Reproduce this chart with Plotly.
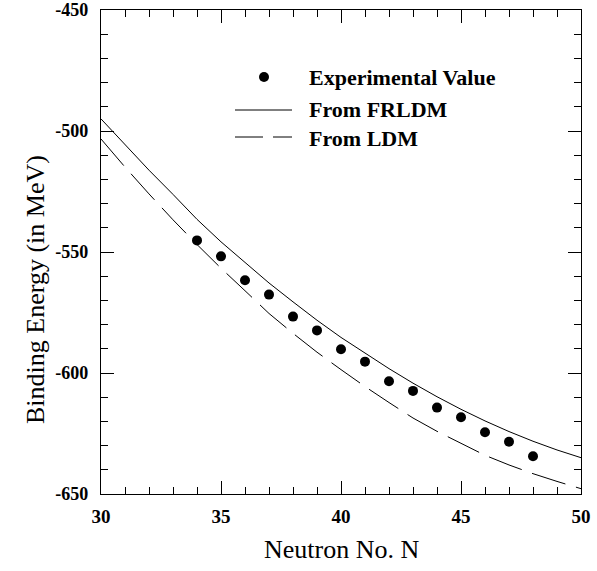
import plotly.graph_objects as go

# ---- data ----
N_exp = [34, 35, 36, 37, 38, 39, 40, 41, 42, 43, 44, 45, 46, 47, 48]
BE_exp = [-545.2, -551.8, -561.7, -567.6, -576.7, -582.4, -590.2, -595.3,
          -603.4, -607.4, -614.3, -618.3, -624.5, -628.4, -634.4]

N_model = [30, 31, 32, 33, 34, 35, 36, 37, 38, 39, 40,
           41, 42, 43, 44, 45, 46, 47, 48, 49, 50]
BE_frldm = [-495.0, -505.8, -516.2, -526.2, -536.5, -545.8, -554.5, -562.8,
            -570.6, -578.2, -585.3, -591.8, -598.2, -604.2, -609.8, -615.0,
            -619.8, -624.2, -628.2, -631.8, -635.0]
BE_ldm = [-503.3, -514.9, -526.0, -536.7, -546.9, -556.7, -566.0, -575.4,
          -583.6, -591.4, -598.6, -605.6, -612.2, -618.6, -624.1, -629.2,
          -634.0, -638.0, -641.6, -644.8, -647.8]

x_ticks = [30, 35, 40, 45, 50]
y_ticks = [-650, -600, -550, -500, -450]

legend_labels = ["Experimental Value", "From FRLDM", "From LDM"]

# ---- layout geometry ----
W, H = 597, 571
L, R, T, B = 101, 16, 10, 77
PW, PH = W - L - R, H - T - B


def px(x):
    return (x - L) / PW


def py(y):
    return (H - B - y) / PH


SERIF = "Liberation Serif"

fig = go.Figure()
fig.add_trace(go.Scatter(x=N_model, y=BE_frldm, mode="lines",
                         line=dict(color="black", width=1), showlegend=False))
fig.add_trace(go.Scatter(x=N_model, y=BE_ldm, mode="lines",
                         line=dict(color="black", width=1, dash="35px,11px"),
                         showlegend=False))
fig.add_trace(go.Scatter(x=N_exp, y=BE_exp, mode="markers",
                         marker=dict(color="black", size=10), showlegend=False))

axis_common = dict(
    showgrid=False, zeroline=False, showline=True, linecolor="black",
    linewidth=1.3, mirror="ticks", ticks="inside", tickcolor="black",
    tickwidth=1, ticklen=13, automargin=False,
)

fig.update_xaxes(range=[30, 50], tickvals=x_ticks,
                 ticktext=[str(v) for v in x_ticks],
                 tickfont=dict(family=SERIF, size=19, color="black",
                               weight="bold"),
                 minor=dict(dtick=1, ticks="inside", ticklen=7,
                            tickcolor="black", tickwidth=1),
                 ticklabelstandoff=5, **axis_common)
fig.update_yaxes(range=[-650, -450], tickvals=y_ticks,
                 ticktext=[str(v) for v in y_ticks],
                 tickfont=dict(family=SERIF, size=18, color="black",
                               weight="bold"),
                 minor=dict(dtick=10, ticks="inside", ticklen=7,
                            tickcolor="black", tickwidth=1),
                 ticklabelstandoff=8, **axis_common)

annotations = [
    dict(text="Neutron No. N", x=0.5, y=py(549), xref="paper", yref="paper",
         showarrow=False, xanchor="center", yanchor="middle",
         font=dict(family=SERIF, size=26, color="black")),
    dict(text="Binding Energy (in MeV)", x=px(35), y=py(290), xref="paper",
         yref="paper", showarrow=False, textangle=-90, xanchor="center",
         yanchor="middle", font=dict(family=SERIF, size=26, color="black")),
]
for lab, yc in zip(legend_labels, [78, 110, 139]):
    annotations.append(dict(text=lab, x=px(307), y=py(yc), xref="paper",
                            yref="paper", showarrow=False, xanchor="left",
                            yanchor="middle",
                            font=dict(family=SERIF, size=22, color="black",
                                      weight="bold")))

shapes = [
    dict(type="circle", xref="paper", yref="paper", x0=px(259), x1=px(269),
         y0=py(82), y1=py(72), fillcolor="black", line=dict(width=0)),
    dict(type="line", xref="paper", yref="paper", x0=px(235), x1=px(292),
         y0=py(110), y1=py(110), line=dict(color="black", width=1)),
    dict(type="line", xref="paper", yref="paper", x0=px(235), x1=px(263),
         y0=py(137), y1=py(137), line=dict(color="black", width=1)),
    dict(type="line", xref="paper", yref="paper", x0=px(273), x1=px(292),
         y0=py(137), y1=py(137), line=dict(color="black", width=1)),
]

fig.update_layout(
    width=W, height=H,
    margin=dict(l=L, r=R, t=T, b=B, pad=0, autoexpand=False),
    paper_bgcolor="white", plot_bgcolor="white",
    annotations=annotations, shapes=shapes,
    showlegend=False,
)

fig.write_html("out.html", config={"displayModeBar": False},
               post_script="document.body.style.margin='0';")
